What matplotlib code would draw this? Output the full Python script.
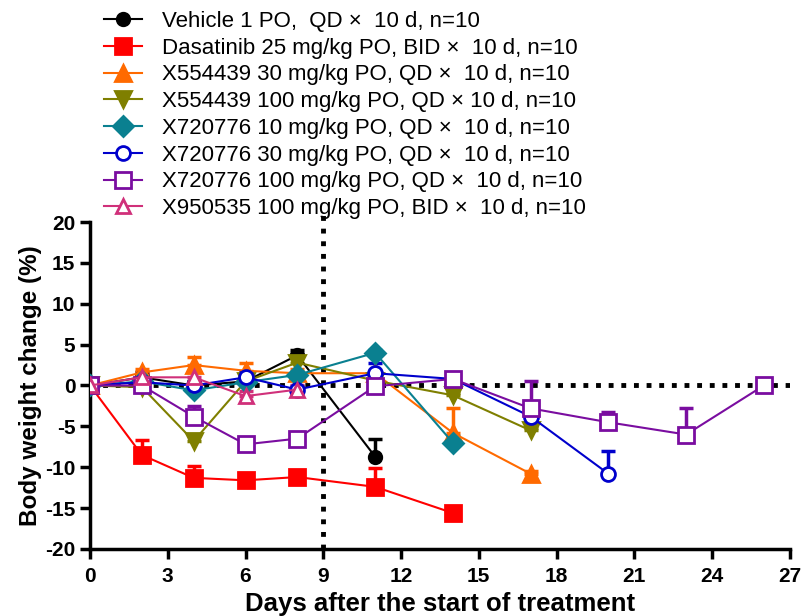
import numpy as np
import matplotlib
matplotlib.use('Agg')
import matplotlib.pyplot as plt

plt.rcParams['font.family'] = ['Liberation Sans', 'DejaVu Sans']
plt.rcParams['axes.unicode_minus'] = False

labels = [
    'Vehicle 1 PO,  QD \u00d7  10 d, n=10',
    'Dasatinib 25 mg/kg PO, BID \u00d7  10 d, n=10',
    'X554439 30 mg/kg PO, QD \u00d7  10 d, n=10',
    'X554439 100 mg/kg PO, QD \u00d7 10 d, n=10',
    'X720776 10 mg/kg PO, QD \u00d7  10 d, n=10',
    'X720776 30 mg/kg PO, QD \u00d7  10 d, n=10',
    'X720776 100 mg/kg PO, QD \u00d7  10 d, n=10',
    'X950535 100 mg/kg PO, BID \u00d7  10 d, n=10',
]

vehicle_days = [0, 2, 4, 6, 8, 11]
vehicle_bw = [0, 1.0, 0.0, 0.5, 3.7, -8.7]
vehicle_err = [0, 0.6, 0.5, 0.5, 0.6, 2.1]

dasa_days = [0, 2, 4, 6, 8, 11, 14]
dasa_bw = [0, -8.5, -11.3, -11.6, -11.2, -12.4, -15.6]
dasa_err = [0, 1.8, 1.5, 0.5, 0.5, 2.3, 0.3]

x554_30_days = [0, 2, 4, 6, 8, 11, 14, 17]
x554_30_bw = [0, 1.6, 2.5, 1.8, 1.5, 1.5, -5.8, -10.8]
x554_30_err = [0, 0.4, 1.0, 1.0, 0.5, 0.3, 3.1, 0.3]

x554_100_days = [0, 2, 4, 6, 8, 11, 14, 17]
x554_100_bw = [0, -0.2, -6.8, 0.5, 2.8, 0.6, -1.2, -5.5]
x554_100_err = [0, 0.3, 0.8, 0.3, 0.8, 0.3, 0.3, 0.3]

x720_10_days = [0, 2, 4, 6, 8, 11, 14]
x720_10_bw = [0, 0.5, -0.6, 0.4, 1.3, 4.0, -7.0]
x720_10_err = [0, 0.3, 0.3, 0.3, 0.3, 0.3, 0.8]

x720_30_days = [0, 2, 4, 6, 8, 11, 14, 17, 20]
x720_30_bw = [0, 0.4, 0.0, 1.0, -0.5, 1.5, 0.8, -3.8, -10.8]
x720_30_err = [0, 0.3, 0.3, 0.6, 0.4, 1.2, 0.4, 1.0, 2.8]

x720_100_days = [0, 2, 4, 6, 8, 11, 14, 17, 20, 23, 26]
x720_100_bw = [0, 0.0, -3.8, -7.2, -6.5, -0.1, 0.8, -2.8, -4.5, -6.0, 0.0]
x720_100_err = [0, 0.3, 1.3, 0.3, 0.3, 0.3, 0.3, 3.4, 1.2, 3.3, 0]

x950_days = [0, 2, 4, 6, 8]
x950_bw = [0, 1.0, 1.0, -1.3, -0.5]
x950_err = [0, 0.4, 0.6, 0.6, 0.6]

series = [
    (vehicle_days, vehicle_bw, vehicle_err),
    (dasa_days, dasa_bw, dasa_err),
    (x554_30_days, x554_30_bw, x554_30_err),
    (x554_100_days, x554_100_bw, x554_100_err),
    (x720_10_days, x720_10_bw, x720_10_err),
    (x720_30_days, x720_30_bw, x720_30_err),
    (x720_100_days, x720_100_bw, x720_100_err),
    (x950_days, x950_bw, x950_err),
]

colors = ['#000000', '#FF0000', '#FF6A00', '#7F7F00', '#0A8090',
          '#0000CC', '#7A0DA0', '#D0307A']
markers = ['o', 's', '^', 'v', 'D', 'o', 's', '^']
filled = [True, True, True, True, True, False, False, False]
sizes = [9, 11, 11, 11, 10, 10, 11, 10]

fig = plt.figure(figsize=(8.01, 6.16), dpi=100)
ax = fig.add_axes([0.1124, 0.1088, 0.8736, 0.5308])

# reference lines: day 9 and zero change
ax.plot([9, 9], [-20, 21.5], ls=(0, (1, 1.6)), color='black', lw=3.5,
        clip_on=False, zorder=1)
ax.axhline(0, ls=(0, (1, 1.6)), color='black', lw=3.5, zorder=1)

handles = []
for (d, v, e), c, m, f, s in zip(series, colors, markers, filled, sizes):
    d = np.array(d)
    v = np.array(v)
    e = np.array(e)
    ax.errorbar(d, v, yerr=[np.zeros_like(e), e], fmt='none', ecolor=c,
                elinewidth=2.5, capsize=5, capthick=2.5, zorder=2)
    h, = ax.plot(d, v, color=c, lw=1.5, marker=m, markersize=s,
                 markerfacecolor=c if f else 'white', markeredgecolor=c,
                 markeredgewidth=2, zorder=3)
    handles.append(h)

ax.set_xlim(0, 27)
ax.set_ylim(-20, 20)
ax.set_xticks(np.arange(0, 28, 3))
ax.set_yticks(np.arange(-20, 21, 5))
for sp in ['top', 'right']:
    ax.spines[sp].set_visible(False)
for sp in ['left', 'bottom']:
    ax.spines[sp].set_linewidth(2.5)
ax.tick_params(width=2.5, length=7, labelsize=15, direction='out')
ax.tick_params(axis='x', pad=6)
for lbl in ax.get_xticklabels() + ax.get_yticklabels():
    lbl.set_fontweight('bold')

ax.set_xlabel('Days after the start of treatment', fontsize=18.5,
              fontweight='bold', labelpad=4)
ax.set_ylabel('Body weight change (%)', fontsize=17.5, fontweight='bold',
              labelpad=2)

fig.legend(handles, labels, loc='upper left', bbox_to_anchor=(0.119, 0.997),
           frameon=False, fontsize=16, handlelength=1.7, handletextpad=0.9,
           labelspacing=0.26, borderaxespad=0)

fig.savefig('out.png', dpi=100)
